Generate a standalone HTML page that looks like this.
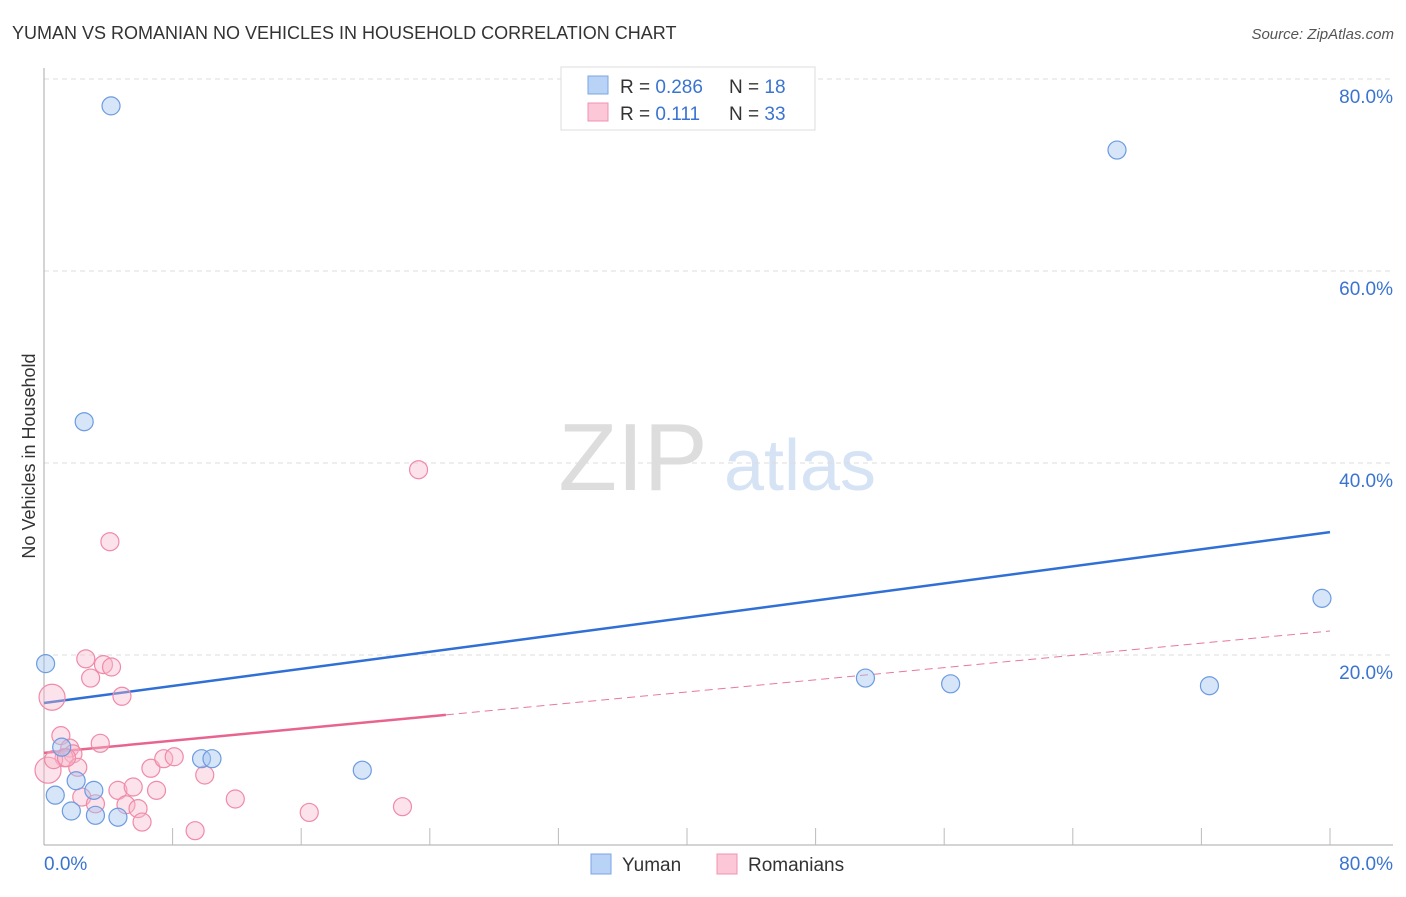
<!DOCTYPE html>
<html><head><meta charset="utf-8"><style>
body{margin:0;background:#fff;font-family:"Liberation Sans",sans-serif;}
svg text{font-family:"Liberation Sans",sans-serif;}
</style></head><body>
<svg id="c" width="1406" height="892" xmlns="http://www.w3.org/2000/svg">
<text x="12" y="39" font-size="18" fill="#333">YUMAN VS ROMANIAN NO VEHICLES IN HOUSEHOLD CORRELATION CHART</text>
<text x="1394" y="39" font-size="15" fill="#555" text-anchor="end" font-style="italic">Source: ZipAtlas.com</text>
<text x="35" y="456" font-size="18" fill="#333" text-anchor="middle" transform="rotate(-90 35 456)">No Vehicles in Household</text>
<g>
<text x="633" y="490" font-size="96" fill="#ddd" font-family="Liberation Serif,serif" text-anchor="middle">ZIP</text>
<text x="800" y="490" font-size="72" fill="#d5e3f5" text-anchor="middle">atlas</text>
</g>
<g id="grid"></g><g id="axes"></g><g id="lines"></g><g id="pts"></g>
<g>
<rect x="561" y="67" width="254" height="63" fill="#fff" stroke="#ddd"/>
<rect x="588" y="76" width="20" height="18" fill="#b8d3f5" stroke="#7aa6e3"/>
<rect x="588" y="103" width="20" height="18" fill="#fcc7d6" stroke="#f093b0"/>
<text x="620" y="93" font-size="19" fill="#333">R = <tspan fill="#3a74d0">0.286</tspan></text>
<text x="729" y="93" font-size="19" fill="#333">N = <tspan fill="#3a74d0"> 18</tspan></text>
<text x="620" y="120" font-size="19" fill="#333">R = <tspan fill="#3a74d0">  0.111</tspan></text>
<text x="729" y="120" font-size="19" fill="#333">N = <tspan fill="#3a74d0"> 33</tspan></text>
</g>
<g>
<rect x="591" y="854" width="20" height="20" fill="#b8d3f5" stroke="#7aa6e3"/>
<text x="622" y="871" font-size="19" fill="#333">Yuman</text>
<rect x="717" y="854" width="20" height="20" fill="#fcc7d6" stroke="#f093b0"/>
<text x="748" y="871" font-size="19" fill="#333">Romanians</text>
</g>
</svg>
<script>
const yTicks=[20,40,60,80];
const xTickLabels=["0.0%","80.0%"];
const blueX=[4.17,66.75,2.5,0.1,79.5,51.1,56.4,72.5,9.8,10.45,19.8,1.1,2.0,0.7,3.1,1.7,3.2,4.6];
const blueY=[77.2,72.6,44.3,19.1,25.9,17.6,17.0,16.8,9.2,9.2,8.0,10.4,6.9,5.4,5.9,3.75,3.3,3.1];
const pinkX=[2.6,3.7,4.2,2.9,0.5,4.85,23.3,4.1,1.05,3.5,1.6,1.8,1.25,2.1,0.25,2.35,3.2,4.6,5.55,5.1,5.85,6.1,6.65,7.45,8.1,7.0,10.0,11.9,9.4,16.5,22.3,0.6,1.4];
const pinkY=[19.6,19.0,18.75,17.6,15.6,15.7,39.3,31.8,11.6,10.8,10.3,9.7,9.3,8.3,8.0,5.2,4.5,5.9,6.25,4.4,4.0,2.6,8.2,9.2,9.4,5.9,7.5,5.0,1.7,3.6,4.2,9.1,9.3];
const blueTrend=[15.0,32.8];
const pinkTrend=[9.8,22.5];
const NS="http://www.w3.org/2000/svg";
const X0=44,X1=1330,Y0=847,PXY=9.6;
const sx=v=>X0+v*(X1-X0)/80, sy=v=>Y0-v*PXY;
function mk(t,a,p){const e=document.createElementNS(NS,t);for(const k in a)e.setAttribute(k,a[k]);document.getElementById(p).appendChild(e);return e;}
yTicks.forEach(t=>{
 const g=mk('line',{x1:44,x2:1393,y1:sy(t),y2:sy(t),stroke:'#ddd','stroke-dasharray':'5,4'},'grid');
 
 
 const l=mk('text',{x:1393,y:sy(t)+24,'font-size':19,fill:'#3a74d0','text-anchor':'end'},'grid');
 l.textContent=t.toFixed(1)+'%';
 
 
});
const ax=mk('line',{x1:44,x2:44,y1:68,y2:845,stroke:'#aaa'},'axes');


const bx=mk('line',{x1:44,x2:1393,y1:845,y2:845,stroke:'#aaa'},'axes');


for(let i=1;i<=10;i++){const t=mk('line',{x1:sx(i*8),x2:sx(i*8),y1:828,y2:845,stroke:'#bbb'},'axes');
 
 }
const xl0=mk('text',{x:44,y:870,'font-size':19,fill:'#3a74d0'},'axes');xl0.textContent=xTickLabels[0];


const xl1=mk('text',{x:1393,y:870,'font-size':19,fill:'#3a74d0','text-anchor':'end'},'axes');xl1.textContent=xTickLabels[1];


const bl=mk('line',{x1:sx(0),y1:sy(blueTrend[0]),x2:sx(80),y2:sy(blueTrend[1]),stroke:'#2f6fd6','stroke-width':2.5},'lines');


const pAt=v=>pinkTrend[0]+(pinkTrend[1]-pinkTrend[0])*v/80;
const pl=mk('line',{x1:sx(0),y1:sy(pAt(0)),x2:sx(25),y2:sy(pAt(25)),stroke:'#e8648e','stroke-width':2.5},'lines');


const pd=mk('line',{x1:sx(25),y1:sy(pAt(25)),x2:sx(80),y2:sy(pAt(80)),stroke:'#e8789c','stroke-width':1,'stroke-dasharray':'8,5'},'lines');


pinkX.forEach((x,i)=>{const big=(i===4||i===14);
 const c=mk('circle',{cx:sx(x),cy:sy(pinkY[i]),r:big?13:9,fill:'rgba(248,182,202,0.4)',stroke:'#f08aa8','stroke-width':1.2},'pts');
 
 });
blueX.forEach((x,i)=>{
 const c=mk('circle',{cx:sx(x),cy:sy(blueY[i]),r:9,fill:'rgba(164,198,240,0.45)',stroke:'#6c9be0','stroke-width':1.2},'pts');
 
 });
</script>
</body></html>
